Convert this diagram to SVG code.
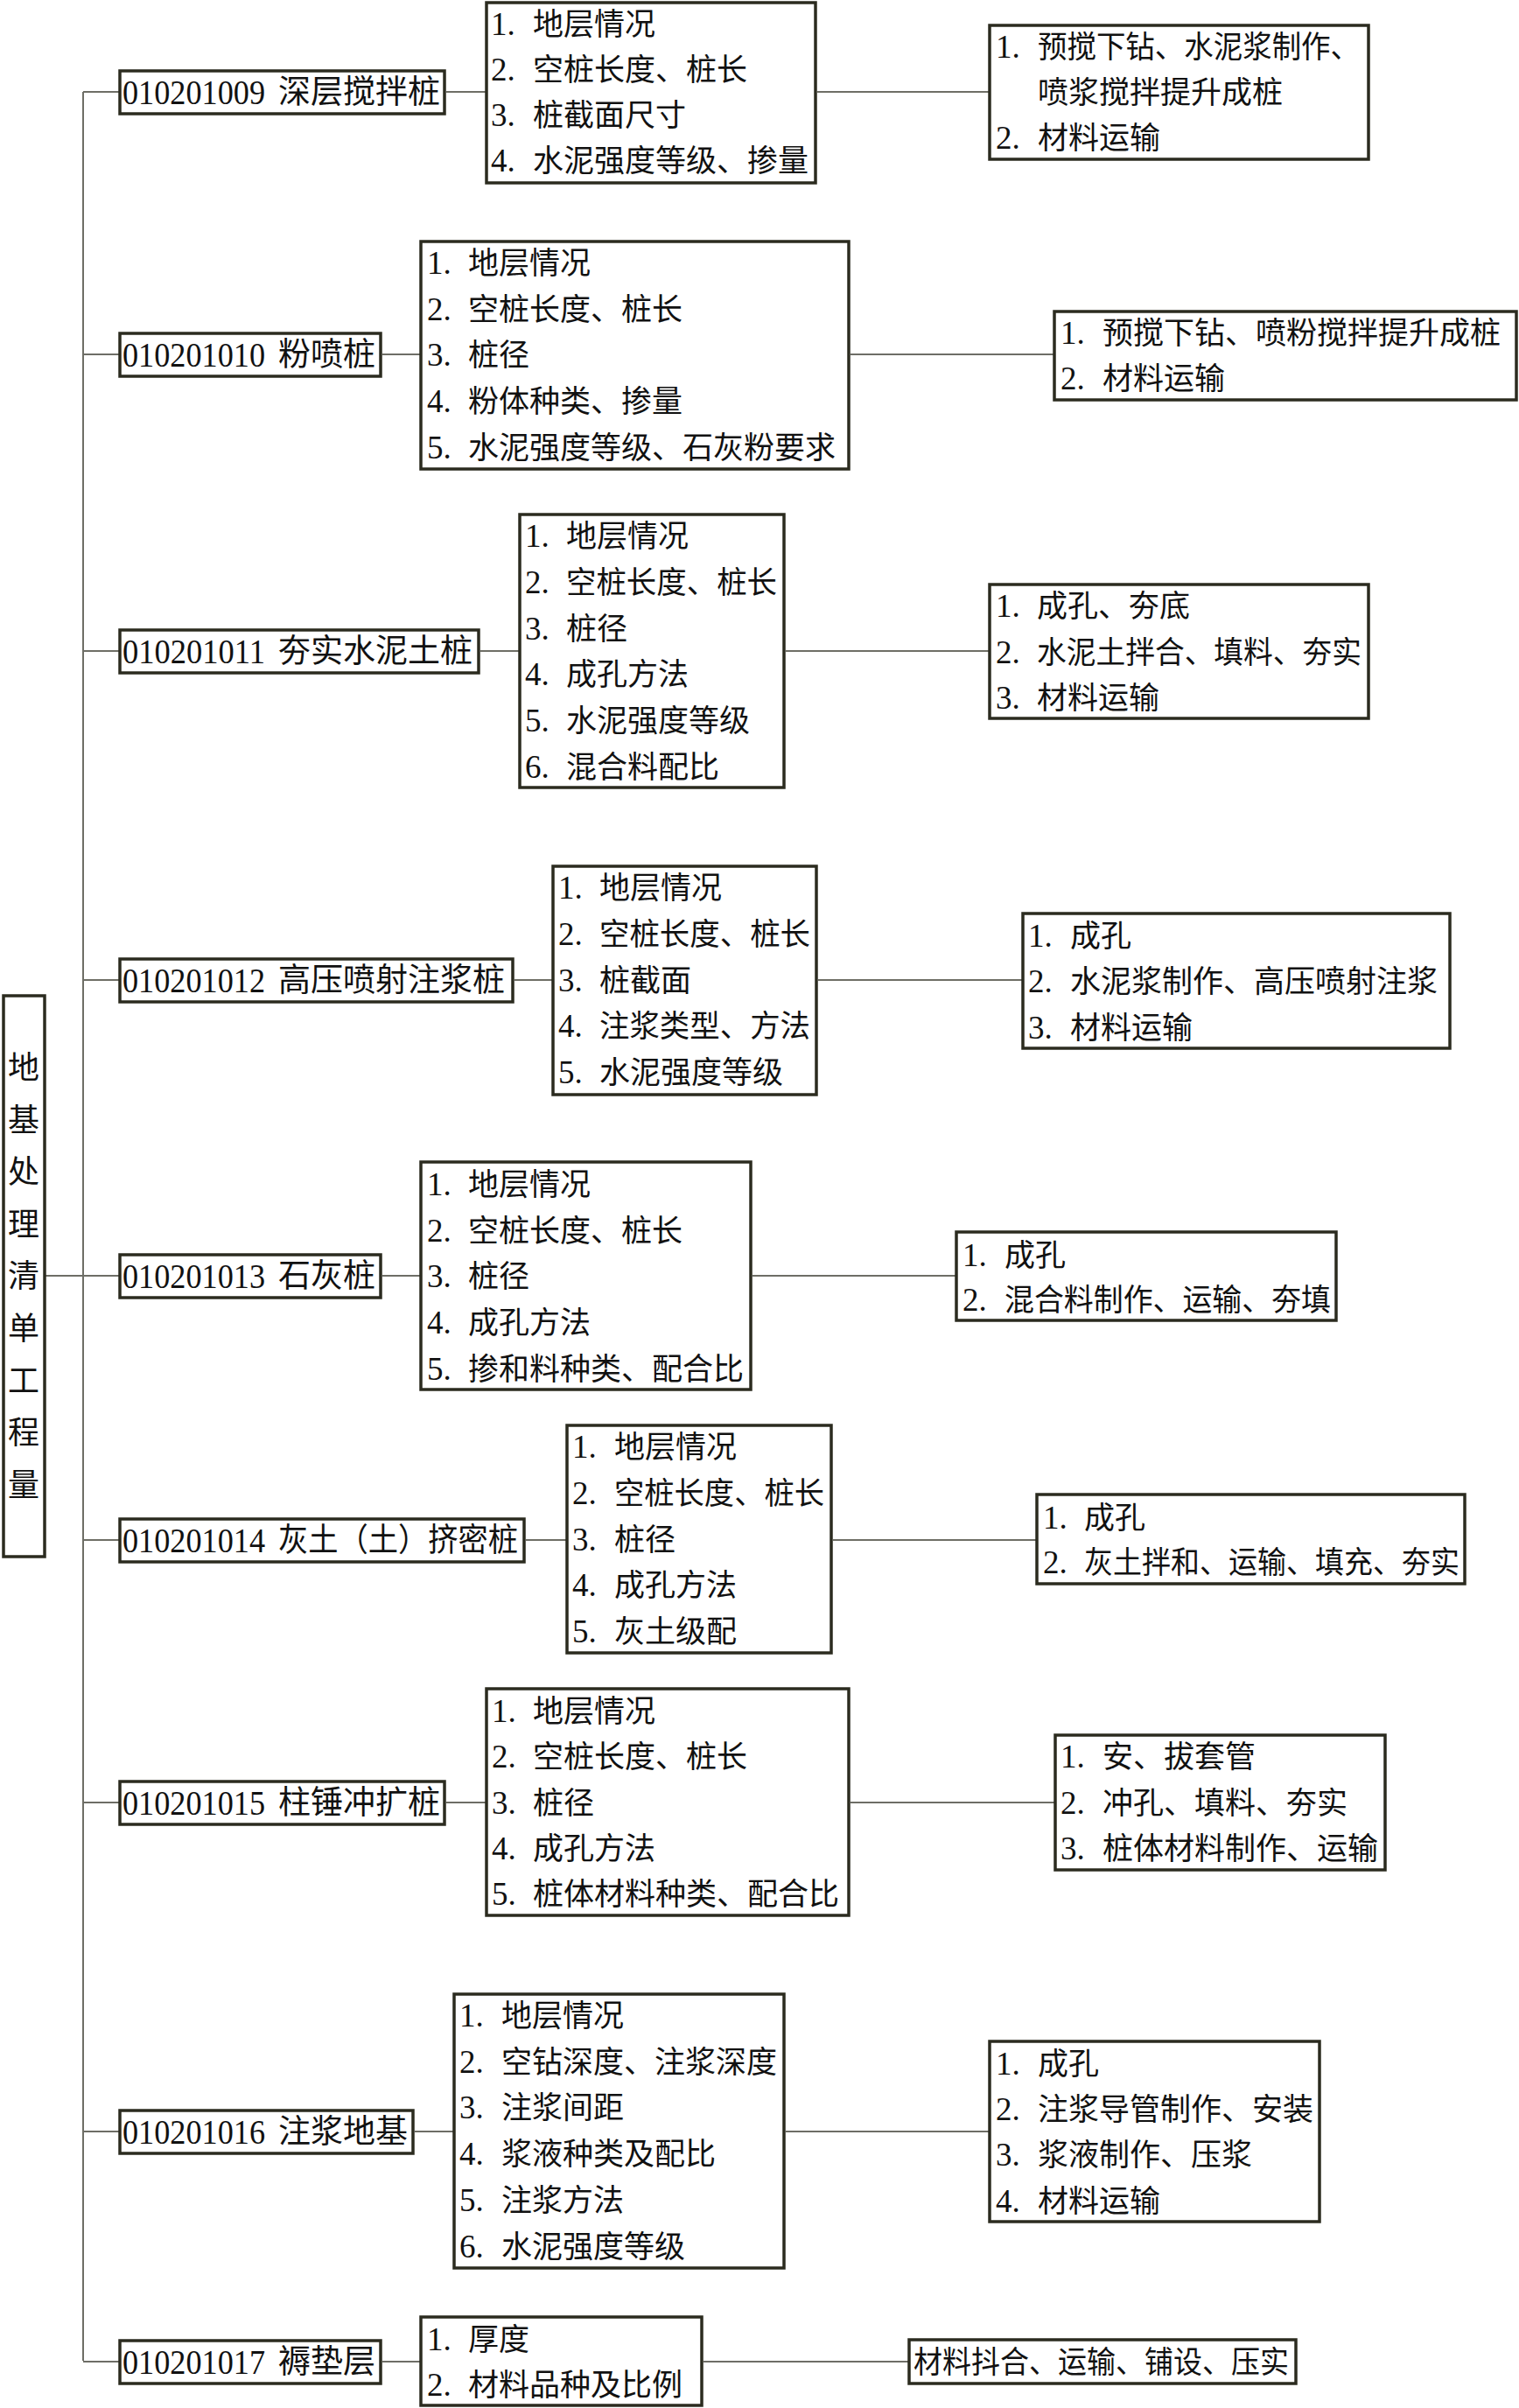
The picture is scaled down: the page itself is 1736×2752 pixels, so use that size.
<svg xmlns="http://www.w3.org/2000/svg" width="1736" height="2752" viewBox="0 0 1736 2752">
<style>
.bg{fill:#ffffff}
.box{fill:#ffffff;stroke:#2b2b1f;stroke-width:3.5}
.ln{stroke:#6e6e66;stroke-width:2;fill:none}
.t{font-family:"Liberation Serif","Noto Sans CJK SC",serif;font-size:35px;fill:#111111}
.n{font-family:"Liberation Serif","Noto Sans CJK SC",serif;font-size:37px;fill:#111111}
.d{font-family:"Liberation Serif","Noto Sans CJK SC",serif;font-size:40px;fill:#111111}
.c{font-family:"Liberation Serif","Noto Sans CJK SC",serif;font-size:37px;fill:#111111}
.tt{font-family:"Noto Sans CJK SC",serif;font-size:36px;fill:#111111;text-anchor:middle}
</style>
<rect class="bg" x="0" y="0" width="1736" height="2752"/>
<g id="connectors">
<path class="ln" d="M95 105 V2698"/>
<path class="ln" d="M51 1458 H95"/>
<path class="ln" d="M95 105 H137 M510 105 H556 M934 105 H1131"/>
<path class="ln" d="M95 405 H137 M437 405 H481 M972 405 H1205"/>
<path class="ln" d="M95 744 H137 M549 744 H594 M898 744 H1131"/>
<path class="ln" d="M95 1120 H137 M588 1120 H632 M935 1120 H1169"/>
<path class="ln" d="M95 1458 H137 M437 1458 H481 M860 1458 H1093"/>
<path class="ln" d="M95 1760 H137 M601 1760 H648 M952 1760 H1185"/>
<path class="ln" d="M95 2060 H137 M510 2060 H556 M972 2060 H1206"/>
<path class="ln" d="M95 2436 H137 M474 2436 H519 M898 2436 H1131"/>
<path class="ln" d="M95 2699 H137 M437 2699 H481 M804 2699 H1039"/>
</g>
<g id="title">
<rect class="box" x="4" y="1138" width="47" height="641"/>
<text class="tt" x="27" y="1233">地</text>
<text class="tt" x="27" y="1293">基</text>
<text class="tt" x="27" y="1352">处</text>
<text class="tt" x="27" y="1412">理</text>
<text class="tt" x="27" y="1471">清</text>
<text class="tt" x="27" y="1531">单</text>
<text class="tt" x="27" y="1591">工</text>
<text class="tt" x="27" y="1650">程</text>
<text class="tt" x="27" y="1710">量</text>
</g>
<!-- Row 1 -->
<g id="code-010201009">
<rect class="box" x="137" y="81" width="371" height="49"/>
<text class="d" x="140" y="119" textLength="163" lengthAdjust="spacingAndGlyphs">010201009</text>
<text class="c" x="318" y="118">深层搅拌桩</text>
</g>
<g id="feat-010201009">
<rect class="box" x="556" y="3" width="376" height="206"/>
<text class="n" x="561" y="40">1.</text><text class="t" x="609" y="40">地层情况</text>
<text class="n" x="561" y="92">2.</text><text class="t" x="609" y="92">空桩长度、桩长</text>
<text class="n" x="561" y="144">3.</text><text class="t" x="609" y="144">桩截面尺寸</text>
<text class="n" x="561" y="196">4.</text><text class="t" x="609" y="196">水泥强度等级、掺量</text>
</g>
<g id="work-010201009">
<rect class="box" x="1131" y="29" width="433" height="153"/>
<text class="n" x="1138" y="66">1.</text><text class="t" x="1186" y="66" textLength="368" lengthAdjust="spacingAndGlyphs">预搅下钻、水泥浆制作、</text>
<text class="t" x="1186" y="118">喷浆搅拌提升成桩</text>
<text class="n" x="1138" y="170">2.</text><text class="t" x="1186" y="170">材料运输</text>
</g>
<!-- Row 2 -->
<g id="code-010201010">
<rect class="box" x="137" y="381" width="298" height="49"/>
<text class="d" x="140" y="419" textLength="163" lengthAdjust="spacingAndGlyphs">010201010</text>
<text class="c" x="318" y="418">粉喷桩</text>
</g>
<g id="feat-010201010">
<rect class="box" x="481" y="276" width="489" height="260"/>
<text class="n" x="488" y="313">1.</text><text class="t" x="535" y="313">地层情况</text>
<text class="n" x="488" y="366">2.</text><text class="t" x="535" y="366">空桩长度、桩长</text>
<text class="n" x="488" y="418">3.</text><text class="t" x="535" y="418">桩径</text>
<text class="n" x="488" y="471">4.</text><text class="t" x="535" y="471">粉体种类、掺量</text>
<text class="n" x="488" y="524">5.</text><text class="t" x="535" y="524">水泥强度等级、石灰粉要求</text>
</g>
<g id="work-010201010">
<rect class="box" x="1205" y="356" width="528" height="101"/>
<text class="n" x="1212" y="393">1.</text><text class="t" x="1260" y="393">预搅下钻、喷粉搅拌提升成桩</text>
<text class="n" x="1212" y="445">2.</text><text class="t" x="1260" y="445">材料运输</text>
</g>
<!-- Row 3 -->
<g id="code-010201011">
<rect class="box" x="137" y="720" width="410" height="49"/>
<text class="d" x="140" y="758" textLength="163" lengthAdjust="spacingAndGlyphs">010201011</text>
<text class="c" x="318" y="757">夯实水泥土桩</text>
</g>
<g id="feat-010201011">
<rect class="box" x="594" y="588" width="302" height="312"/>
<text class="n" x="600" y="625">1.</text><text class="t" x="647" y="625">地层情况</text>
<text class="n" x="600" y="678">2.</text><text class="t" x="647" y="678" textLength="241" lengthAdjust="spacingAndGlyphs">空桩长度、桩长</text>
<text class="n" x="600" y="731">3.</text><text class="t" x="647" y="731">桩径</text>
<text class="n" x="600" y="783">4.</text><text class="t" x="647" y="783">成孔方法</text>
<text class="n" x="600" y="836">5.</text><text class="t" x="647" y="836">水泥强度等级</text>
<text class="n" x="600" y="889">6.</text><text class="t" x="647" y="889">混合料配比</text>
</g>
<g id="work-010201011">
<rect class="box" x="1131" y="668" width="433" height="153"/>
<text class="n" x="1138" y="705">1.</text><text class="t" x="1185" y="705">成孔、夯底</text>
<text class="n" x="1138" y="758">2.</text><text class="t" x="1185" y="758" textLength="371" lengthAdjust="spacingAndGlyphs">水泥土拌合、填料、夯实</text>
<text class="n" x="1138" y="810">3.</text><text class="t" x="1185" y="810">材料运输</text>
</g>
<!-- Row 4 -->
<g id="code-010201012">
<rect class="box" x="137" y="1096" width="449" height="49"/>
<text class="d" x="140" y="1134" textLength="163" lengthAdjust="spacingAndGlyphs">010201012</text>
<text class="c" x="318" y="1133">高压喷射注浆桩</text>
</g>
<g id="feat-010201012">
<rect class="box" x="632" y="990" width="301" height="261"/>
<text class="n" x="638" y="1027">1.</text><text class="t" x="685" y="1027">地层情况</text>
<text class="n" x="638" y="1080">2.</text><text class="t" x="685" y="1080" textLength="241" lengthAdjust="spacingAndGlyphs">空桩长度、桩长</text>
<text class="n" x="638" y="1133">3.</text><text class="t" x="685" y="1133">桩截面</text>
<text class="n" x="638" y="1185">4.</text><text class="t" x="685" y="1185" textLength="241" lengthAdjust="spacingAndGlyphs">注浆类型、方法</text>
<text class="n" x="638" y="1238">5.</text><text class="t" x="685" y="1238">水泥强度等级</text>
</g>
<g id="work-010201012">
<rect class="box" x="1169" y="1044" width="488" height="154"/>
<text class="n" x="1175" y="1082">1.</text><text class="t" x="1223" y="1082">成孔</text>
<text class="n" x="1175" y="1134">2.</text><text class="t" x="1223" y="1134">水泥浆制作、高压喷射注浆</text>
<text class="n" x="1175" y="1187">3.</text><text class="t" x="1223" y="1187">材料运输</text>
</g>
<!-- Row 5 -->
<g id="code-010201013">
<rect class="box" x="137" y="1434" width="298" height="49"/>
<text class="d" x="140" y="1472" textLength="163" lengthAdjust="spacingAndGlyphs">010201013</text>
<text class="c" x="318" y="1471">石灰桩</text>
</g>
<g id="feat-010201013">
<rect class="box" x="481" y="1328" width="377" height="260"/>
<text class="n" x="488" y="1366">1.</text><text class="t" x="535" y="1366">地层情况</text>
<text class="n" x="488" y="1419">2.</text><text class="t" x="535" y="1419">空桩长度、桩长</text>
<text class="n" x="488" y="1471">3.</text><text class="t" x="535" y="1471">桩径</text>
<text class="n" x="488" y="1524">4.</text><text class="t" x="535" y="1524">成孔方法</text>
<text class="n" x="488" y="1577">5.</text><text class="t" x="535" y="1577">掺和料种类、配合比</text>
</g>
<g id="work-010201013">
<rect class="box" x="1093" y="1408" width="434" height="101"/>
<text class="n" x="1100" y="1447">1.</text><text class="t" x="1148" y="1447">成孔</text>
<text class="n" x="1100" y="1498">2.</text><text class="t" x="1148" y="1498" textLength="373" lengthAdjust="spacingAndGlyphs">混合料制作、运输、夯填</text>
</g>
<!-- Row 6 -->
<g id="code-010201014">
<rect class="box" x="137" y="1736" width="462" height="49"/>
<text class="d" x="140" y="1774" textLength="163" lengthAdjust="spacingAndGlyphs">010201014</text>
<text class="c" x="318" y="1773" textLength="274" lengthAdjust="spacingAndGlyphs">灰土（土）挤密桩</text>
</g>
<g id="feat-010201014">
<rect class="box" x="648" y="1629" width="302" height="260"/>
<text class="n" x="654" y="1666">1.</text><text class="t" x="702" y="1666">地层情况</text>
<text class="n" x="654" y="1719">2.</text><text class="t" x="702" y="1719" textLength="240" lengthAdjust="spacingAndGlyphs">空桩长度、桩长</text>
<text class="n" x="654" y="1772">3.</text><text class="t" x="702" y="1772">桩径</text>
<text class="n" x="654" y="1824">4.</text><text class="t" x="702" y="1824">成孔方法</text>
<text class="n" x="654" y="1877">5.</text><text class="t" x="702" y="1877">灰土级配</text>
</g>
<g id="work-010201014">
<rect class="box" x="1185" y="1708" width="489" height="102"/>
<text class="n" x="1192" y="1747">1.</text><text class="t" x="1239" y="1747">成孔</text>
<text class="n" x="1192" y="1798">2.</text><text class="t" x="1239" y="1798" textLength="429" lengthAdjust="spacingAndGlyphs">灰土拌和、运输、填充、夯实</text>
</g>
<!-- Row 7 -->
<g id="code-010201015">
<rect class="box" x="137" y="2036" width="371" height="49"/>
<text class="d" x="140" y="2074" textLength="163" lengthAdjust="spacingAndGlyphs">010201015</text>
<text class="c" x="318" y="2073">柱锤冲扩桩</text>
</g>
<g id="feat-010201015">
<rect class="box" x="556" y="1930" width="414" height="259"/>
<text class="n" x="562" y="1968">1.</text><text class="t" x="609" y="1968">地层情况</text>
<text class="n" x="562" y="2020">2.</text><text class="t" x="609" y="2020">空桩长度、桩长</text>
<text class="n" x="562" y="2073">3.</text><text class="t" x="609" y="2073">桩径</text>
<text class="n" x="562" y="2125">4.</text><text class="t" x="609" y="2125">成孔方法</text>
<text class="n" x="562" y="2177">5.</text><text class="t" x="609" y="2177">桩体材料种类、配合比</text>
</g>
<g id="work-010201015">
<rect class="box" x="1206" y="1983" width="377" height="154"/>
<text class="n" x="1212" y="2020">1.</text><text class="t" x="1260" y="2020">安、拔套管</text>
<text class="n" x="1212" y="2073">2.</text><text class="t" x="1260" y="2073">冲孔、填料、夯实</text>
<text class="n" x="1212" y="2125">3.</text><text class="t" x="1260" y="2125">桩体材料制作、运输</text>
</g>
<!-- Row 8 -->
<g id="code-010201016">
<rect class="box" x="137" y="2412" width="335" height="49"/>
<text class="d" x="140" y="2450" textLength="163" lengthAdjust="spacingAndGlyphs">010201016</text>
<text class="c" x="318" y="2449">注浆地基</text>
</g>
<g id="feat-010201016">
<rect class="box" x="519" y="2279" width="377" height="313"/>
<text class="n" x="525" y="2316">1.</text><text class="t" x="573" y="2316">地层情况</text>
<text class="n" x="525" y="2369">2.</text><text class="t" x="573" y="2369">空钻深度、注浆深度</text>
<text class="n" x="525" y="2421">3.</text><text class="t" x="573" y="2421">注浆间距</text>
<text class="n" x="525" y="2474">4.</text><text class="t" x="573" y="2474">浆液种类及配比</text>
<text class="n" x="525" y="2527">5.</text><text class="t" x="573" y="2527">注浆方法</text>
<text class="n" x="525" y="2580">6.</text><text class="t" x="573" y="2580">水泥强度等级</text>
</g>
<g id="work-010201016">
<rect class="box" x="1131" y="2333" width="377" height="206"/>
<text class="n" x="1138" y="2371">1.</text><text class="t" x="1186" y="2371">成孔</text>
<text class="n" x="1138" y="2423">2.</text><text class="t" x="1186" y="2423">注浆导管制作、安装</text>
<text class="n" x="1138" y="2475">3.</text><text class="t" x="1186" y="2475">浆液制作、压浆</text>
<text class="n" x="1138" y="2528">4.</text><text class="t" x="1186" y="2528">材料运输</text>
</g>
<!-- Row 9 -->
<g id="code-010201017">
<rect class="box" x="137" y="2675" width="298" height="49"/>
<text class="d" x="140" y="2713" textLength="163" lengthAdjust="spacingAndGlyphs">010201017</text>
<text class="c" x="318" y="2712">褥垫层</text>
</g>
<g id="feat-010201017">
<rect class="box" x="481" y="2648" width="321" height="101"/>
<text class="n" x="488" y="2686">1.</text><text class="t" x="535" y="2686">厚度</text>
<text class="n" x="488" y="2738">2.</text><text class="t" x="535" y="2738">材料品种及比例</text>
</g>
<g id="work-010201017">
<rect class="box" x="1039" y="2674" width="442" height="50"/>
<text class="t" x="1044" y="2712" textLength="429" lengthAdjust="spacingAndGlyphs">材料抖合、运输、铺设、压实</text>
</g>
</svg>
